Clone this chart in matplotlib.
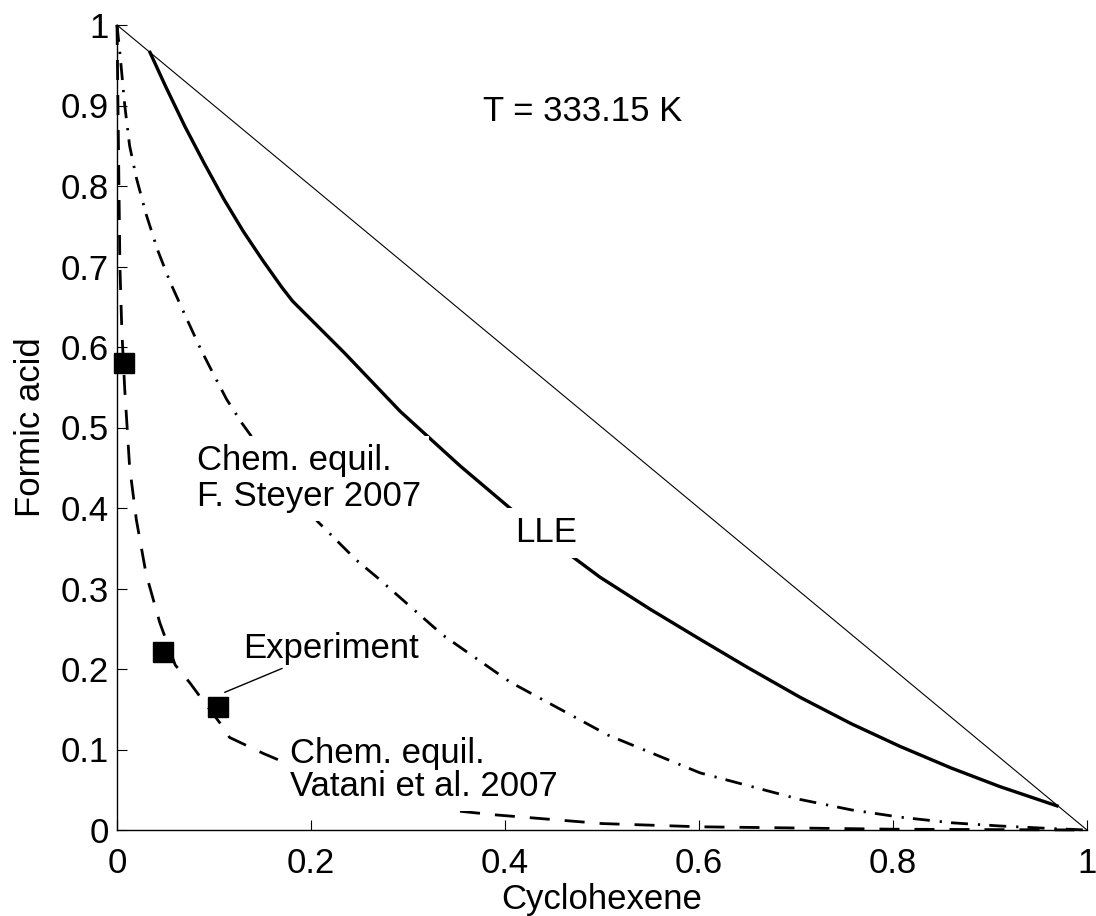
import matplotlib
matplotlib.use('Agg')
import matplotlib.pyplot as plt

plt.rcParams['font.family'] = ['Liberation Sans', 'DejaVu Sans']

# diagonal (binary edge cyclohexene / formic acid)
diag_x = [0.0, 1.0]
diag_y = [1.0, 0.0]

# LLE binodal
lle_x = [0.034, 0.050, 0.070, 0.090, 0.110, 0.130, 0.150, 0.170, 0.181, 0.235, 0.292,
         0.354, 0.405, 0.469, 0.498, 0.550, 0.601, 0.650, 0.704, 0.757, 0.807, 0.860, 0.910, 0.969]
lle_y = [0.966, 0.924, 0.874, 0.828, 0.784, 0.744, 0.708, 0.674, 0.657, 0.592, 0.520,
         0.452, 0.400, 0.340, 0.314, 0.274, 0.237, 0.202, 0.165, 0.132, 0.104, 0.077, 0.054, 0.030]

# chem. equilibrium, F. Steyer 2007
steyer_x = [0.0, 0.003, 0.008, 0.013, 0.020, 0.030, 0.042, 0.055, 0.070, 0.086, 0.100, 0.113,
            0.129, 0.150, 0.180, 0.207, 0.247, 0.268, 0.336, 0.405, 0.506, 0.601, 0.704, 0.757,
            0.807, 0.860, 0.910, 0.960, 1.0]
steyer_y = [1.0, 0.965, 0.900, 0.850, 0.810, 0.765, 0.720, 0.680, 0.640, 0.598, 0.565, 0.535,
            0.505, 0.470, 0.420, 0.383, 0.335, 0.314, 0.242, 0.184, 0.118, 0.071, 0.038, 0.025,
            0.016, 0.009, 0.005, 0.002, 0.0]

# chem. equilibrium, Vatani et al. 2007
vatani_x = [0.0, 0.001, 0.002, 0.003, 0.005, 0.008, 0.013, 0.020, 0.030, 0.044, 0.060, 0.075,
            0.086, 0.108, 0.116, 0.151, 0.200, 0.250, 0.340, 0.388, 0.500, 0.600, 0.800, 1.0]
vatani_y = [1.0, 0.900, 0.800, 0.700, 0.620, 0.547, 0.451, 0.385, 0.318, 0.258, 0.205, 0.183,
            0.165, 0.130, 0.115, 0.095, 0.070, 0.050, 0.025, 0.019, 0.008, 0.004, 0.001, 0.0]

# experiment
exp_x = [0.0072, 0.0474, 0.104]
exp_y = [0.580, 0.221, 0.153]

ticks = [0, 0.2, 0.4, 0.6, 0.8, 1]
yticks = [0, 0.1, 0.2, 0.3, 0.4, 0.5, 0.6, 0.7, 0.8, 0.9, 1]
tick_labels = ['0', '0.2', '0.4', '0.6', '0.8', '1']
ytick_labels = ['0', '0.1', '0.2', '0.3', '0.4', '0.5', '0.6', '0.7', '0.8', '0.9', '1']

fs = 25

fig = plt.figure(figsize=(10.96, 9.16), dpi=100)
ax = fig.add_axes([117/1096, 86/916, 970/1096, 805/916])

ax.plot(diag_x, diag_y, color='k', lw=0.8, clip_on=False)
ax.plot(lle_x, lle_y, color='k', lw=2.4, clip_on=False)
l1, = ax.plot(steyer_x, steyer_y, color='k', lw=2.0, clip_on=False)
l1.set_dashes([6.1, 3.6, 0.8, 3.3])
l2, = ax.plot(vatani_x, vatani_y, color='k', lw=2.0, clip_on=False)
l2.set_dashes([7.2, 5.4])
ax.plot(exp_x, exp_y, 's', color='k', ms=14, zorder=4, clip_on=False)

box = dict(facecolor='white', edgecolor='none', pad=6)
ax.text(0.377, 0.892, 'T = 333.15 K', fontsize=fs, va='center', ha='left')
ax.text(0.082, 0.437, 'Chem. equil.\nF. Steyer 2007', fontsize=fs, va='center', ha='left',
        linespacing=1.1, bbox=box, zorder=5)
ax.text(0.410, 0.369, 'LLE', fontsize=fs, va='center', ha='left', bbox=box, zorder=5)
ax.text(0.178, 0.0745, 'Chem. equil.\nVatani et al. 2007', fontsize=fs, va='center', ha='left',
        linespacing=1.0, bbox=box, zorder=5)
ax.annotate('Experiment', xy=(0.111, 0.171), xytext=(0.130, 0.226), fontsize=fs,
            va='center', ha='left',
            arrowprops=dict(arrowstyle='-', color='k', lw=1.0, shrinkA=2, shrinkB=0))

ax.set_xlim(0, 1)
ax.set_ylim(0, 1)
ax.set_xticks(ticks)
ax.set_xticklabels(tick_labels)
ax.set_yticks(yticks)
ax.set_yticklabels(ytick_labels)
ax.spines['top'].set_visible(False)
ax.spines['right'].set_visible(False)
for s in ['left', 'bottom']:
    ax.spines[s].set_linewidth(1.0)
ax.tick_params(direction='in', length=7, width=0.8, labelsize=fs)
ax.tick_params(axis='x', pad=12)
ax.tick_params(axis='y', pad=6)

ax.set_xlabel('Cyclohexene', fontsize=fs)
ax.set_ylabel('Formic acid', fontsize=fs)
ax.xaxis.set_label_coords(0.5, -0.066)
ax.yaxis.set_label_coords(-0.072, 0.5)

fig.savefig('out.png', dpi=100)
